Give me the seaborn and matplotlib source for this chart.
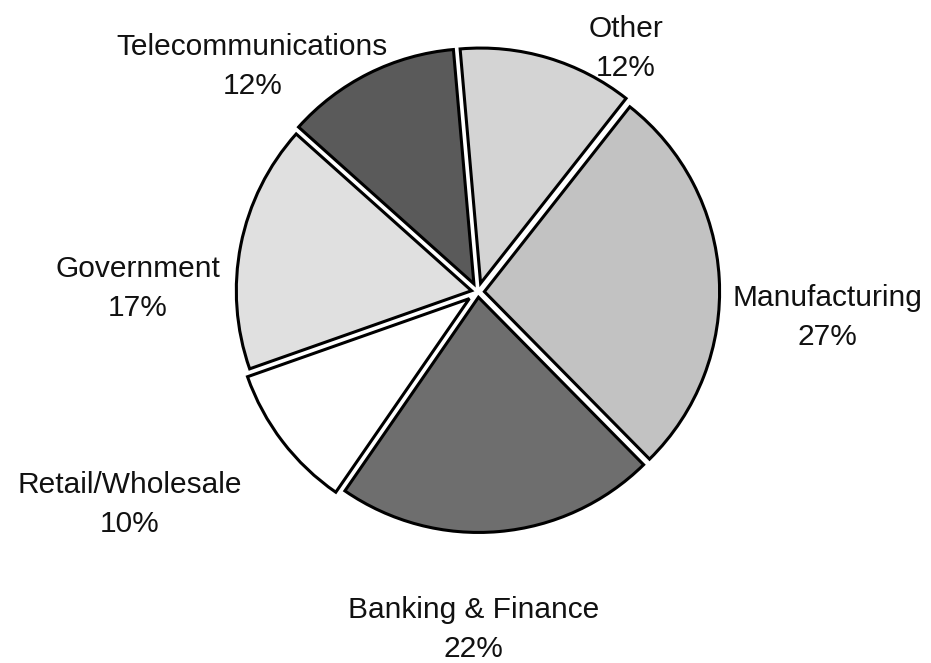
#!/usr/bin/env python3
import matplotlib
matplotlib.use("Agg")
import matplotlib.pyplot as plt
import seaborn as sns
import numpy as np

# data (clockwise from top)
sectors = ["Other", "Manufacturing", "Banking & Finance", "Retail/Wholesale",
           "Government", "Telecommunications"]
shares = [12, 27, 22, 10, 17, 12]

# grey fills like the old print
greys = ["#d4d4d4", "#c2c2c2", "#6e6e6e", "#ffffff", "#e0e0e0", "#5a5a5a"]

# label centres (data units, pie radius = 1)
label_pos = [(0.617, 1.015), (1.458, -0.108), (-0.017, -1.405),
             (-1.45, -0.885), (-1.417, 0.015), (-0.94, 0.94)]

# explode so every wedge edge moves the same distance sideways -> even white gaps
gap = [0.014, 0.02, 0.014, 0.014, 0.014, 0.014]
span = np.radians(np.array(shares) / sum(shares) * 360)
explode = np.array(gap) / np.sin(span / 2)

sns.set_style("white")
plt.rcParams["font.family"] = ["Liberation Sans", "DejaVu Sans"]

fig = plt.figure(figsize=(9.31, 6.63), dpi=100)
ax = fig.add_axes([0, 0, 1, 1])

ax.pie(shares, colors=greys, explode=explode, startangle=95, counterclock=False,
       wedgeprops=dict(edgecolor="black", linewidth=2.2), radius=0.98)

for name, val, (x, y) in zip(sectors, shares, label_pos):
    ax.text(x, y, f"{name}\n{val}%", ha="center", va="center",
            fontsize=21.5, linespacing=1.5, color="#111111")

ax.set_xlim(-478 / 240, (931 - 478) / 240)
ax.set_ylim(-371 / 240, 292 / 240)
ax.set_aspect("auto")
ax.axis("off")

fig.savefig("out.png", dpi=100)
